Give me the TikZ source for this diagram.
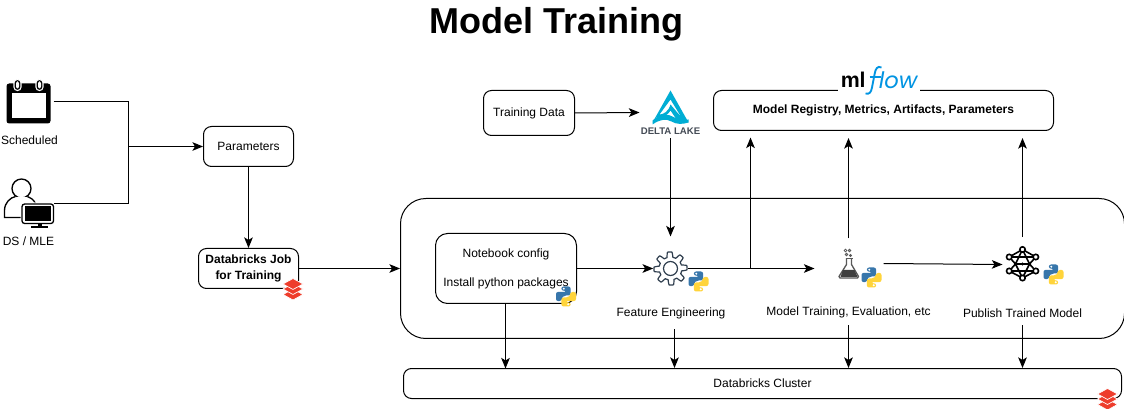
\documentclass[tikz,border=0pt]{standalone}
\usepackage{fontspec}
\setmainfont{Liberation Sans}
\newfontfamily\mlfont{Poppins}
\usetikzlibrary{arrows.meta,calc}
\definecolor{pyblue}{HTML}{3776AB}
\definecolor{pyyellow}{HTML}{FFD43B}
\definecolor{dbred}{HTML}{EE3D2C}
\definecolor{deltablue}{HTML}{00ADD4}
\definecolor{flowblue}{HTML}{0194E2}
\definecolor{gearcol}{HTML}{2F3E4E}
\definecolor{deltagrey}{HTML}{444B55}
\tikzset{
  x=0.75pt,y=-0.75pt,
  conn/.style={draw=black,line width=0.75pt},
  arrowconn/.style={conn,-{Stealth[length=8pt,width=6.5pt,inset=2pt]}},
  gapend/.style={shorten >=5.25pt},
  boxnode/.style={draw=black,line width=0.75pt,rounded corners=6pt,fill=white,align=center,font=\fontsize{9}{14}\selectfont,inner sep=0pt},
  label/.style={font=\fontsize{9}{11}\selectfont,inner sep=0pt,align=center},
  iconnode/.style={inner sep=0pt,outer sep=0pt,rectangle},
}
\newcommand{\downtext}[1]{\raisebox{-0.4pt}{#1}}
\newcommand{\pylogo}[2]{%
  \begin{scope}[shift={(#1,#2)}]
    \fill[pyblue,rounded corners=1.6pt] (-4.6,-10) -- (4.6,-10) -- (4.6,-1) -- (-2,-1) -- (-4.6,1.4) -- (-4.6,4.6) -- (-10,4.6) -- (-10,-4.6) -- (0.4,-4.6) -- (0.4,-5.8) -- (-4.6,-5.8) -- cycle;
    \fill[pyyellow,rounded corners=1.6pt] (4.6,10) -- (-4.6,10) -- (-4.6,1) -- (2,1) -- (4.6,-1.4) -- (4.6,-4.6) -- (10,-4.6) -- (10,4.6) -- (-0.4,4.6) -- (-0.4,5.8) -- (4.6,5.8) -- cycle;
    \fill[white] (-2.2,-7.8) circle[radius=1.1] (2.2,7.8) circle[radius=1.1];
  \end{scope}}
\newcommand{\dblogo}[2]{%
  \begin{scope}[shift={(#1,#2)}]
    \foreach \dy in {6,0.5,-4.5}{
      \fill[dbred,draw=white,line width=0.5pt] (-10,\dy) -- (0,\dy-5.5) -- (10,\dy) -- (0,\dy+5.5) -- cycle;
    }
  \end{scope}}
\begin{document}
\begin{tikzpicture}
\useasboundingbox (-0.5,-0.5) rectangle (1123.5,408.5);
\fill[white] (-0.5,-0.5) rectangle (1123.5,408.5);

% title
\node[font=\fontsize{27}{30}\bfseries\selectfont,inner sep=0pt] (title) at (556,24) {Model Training};

% invisible anchors of the icons
\node[iconnode,minimum width=36pt,minimum height=30pt] (cal) at (29,101) {};
\node[iconnode,minimum width=36pt,minimum height=30pt] (user) at (29,203) {};
\node[iconnode,minimum width=26pt,minimum height=48pt] (gear) at (670,268) {};
\node[iconnode,minimum width=46.5pt,minimum height=39pt] (delta) at (670,112) {};
\node[iconnode,minimum width=51pt,minimum height=45pt] (flask) at (848,268) {};
\node[iconnode,minimum width=15pt,minimum height=41pt] (flaskr) at (873,263) {};
\node[iconnode,minimum width=30pt,minimum height=41pt] (net) at (1022,264) {};
\node[iconnode,minimum width=18pt,minimum height=10pt] (gearlow) at (674,322) {};
\node[iconnode,minimum width=18pt,minimum height=10pt] (flasklow) at (848,318) {};
\node[iconnode,minimum width=18pt,minimum height=10pt] (netlow) at (1022,318) {};

% boxes
\node[boxnode,minimum width=67.5pt,minimum height=30pt] (params) at (248,146) {\downtext{Parameters}};
\node[boxnode,minimum width=75pt,minimum height=30pt,font=\fontsize{9}{12}\bfseries\selectfont] (job) at (248,268) {Databricks Job\\for Training};
\node[boxnode,rounded corners=19pt,minimum width=543pt,minimum height=105pt] (big) at (762,268) {};
\node[boxnode,rounded corners=9pt,minimum width=105.75pt,minimum height=52.5pt] (nb) at (505.5,268) {};
\node[label] (nb1) at (505.5,254) {Notebook config};
\node[label] (nb2) at (505.5,283) {Install python packages};
\node[boxnode,minimum width=68.25pt,minimum height=33.75pt] (train) at (528.5,112.5) {\downtext{Training Data}};
\node[boxnode,minimum width=255pt,minimum height=30pt,font=\fontsize{9}{11}\bfseries\selectfont] (reg) at (883,110) {\downtext{Model Registry, Metrics, Artifacts, Parameters}};
\node[boxnode,minimum width=538.5pt,minimum height=22.5pt] (cluster) at (762,383) {\downtext{Databricks Cluster}};

% labels
\node[label] (sched) at (29,140) {Scheduled};
\node[label] (dsmle) at (28,241) {DS / MLE};
\node[label] (fe) at (670.5,313) {Feature Engineering};
\node[label] (mt) at (848,312) {Model Training, Evaluation, etc};
\node[label] (pub) at (1022,313) {Publish Trained Model};

% mlflow logo
\fill[white] (837,80) rectangle (919,95);
\node[inner sep=0pt,anchor=base west,font=\fontsize{16}{18}\bfseries\selectfont] (ml) at (840,87.5) {ml};
\draw[flowblue,line width=1.4pt] (881,67) .. controls (877,65) and (875,68) .. (874,74) -- (871.5,87) .. controls (870.5,92) and (869,94) .. (865,93);
\draw[flowblue,line width=1.2pt] (869,76.5) -- (880,76.5);
\node[inner sep=0pt,anchor=base west,font=\mlfont\fontsize{17}{20}\itshape\selectfont,text=flowblue] (flowtxt) at (878,88) {low};

% connectors
\coordinate (jtop) at (128,101);
\coordinate (jbot) at (128,203);
\coordinate (jmid) at (128,146);
\coordinate (branch) at (750,268);
\draw[conn] (cal.east) -- (jtop) -- (jbot) -- (user.east);
\draw[arrowconn] (jmid) -- (params.west);
\draw[arrowconn] (params.south) -- (job.north);
\draw[arrowconn] (job.east) -- (big.west);
\draw[arrowconn] (train.east) -- (delta.west);
\draw[arrowconn] (delta.south) -- (gear.north);
\draw[arrowconn] (nb.east) -- (gear.west);
\draw[arrowconn] (gear.east) -- (flask.west);
\draw[arrowconn] (branch) -- ++(0,-131);
\draw[arrowconn,gapend] (flask.north) -- (flask.north |- reg.south);
\draw[arrowconn] (flaskr.east) -- (net.west);
\draw[arrowconn,gapend] (net.north) -- (net.north |- reg.south);
\draw[arrowconn] (505,303) -- (505,368);
\draw[arrowconn] (gearlow.south) -- (gearlow.south |- cluster.north);
\draw[arrowconn] (flasklow.south) -- (flasklow.south |- cluster.north);
\draw[arrowconn] (netlow.south) -- (netlow.south |- cluster.north);

% calendar icon
\fill[black,rounded corners=2pt] (6,83) rectangle (50,123);
\fill[white] (11,93) rectangle (45,118);
\foreach \cx in {17,39}{
  \fill[black,draw=white,line width=0.8pt,rounded corners=2.5pt] (\cx-3.5,79) rectangle (\cx+3.5,90);
  \fill[white,rounded corners=1.5pt] (\cx-1.5,81) rectangle (\cx+1.5,88);
}

% user with monitor
\draw[line width=1pt] (21,188) circle[radius=9.5];
\fill[white] (4,218) -- (4,210) .. controls (4,202) and (12,196) .. (21,196) .. controls (28,196) and (35,200) .. (36,206) -- (36,218) -- cycle;
\draw[line width=1pt] (22,217) -- (4,217) -- (4,210) .. controls (4,202) and (10,197) .. (15,196);
\draw[line width=1pt] (27,196) .. controls (30,197) and (33,199) .. (35,203);
\fill[white,rounded corners=2pt] (20,202) rectangle (54,225);
\draw[line width=1pt,rounded corners=2pt] (21.5,203.5) rectangle (53,223);
\fill[black] (24,206) rectangle (50.5,220.5);
\fill[black] (37,223) rectangle (41,227);
\fill[black] (30,226) rectangle (47,228);

% delta lake logo
\fill[deltablue,even odd rule] (670,90) -- (688,122) -- (678,122) -- (670,110) .. controls (668,114) and (662,118) .. (656,117) -- (652,122) -- cycle
  (670,99) -- (659,114) .. controls (663,114) and (668,111) .. (670,104) -- (681,117) -- cycle;
\fill[deltablue] (652,120) .. controls (660,113) and (668,113) .. (674,117) .. controls (678,120) and (683,120) .. (688,119) -- (688,122) .. controls (682,124) and (676,124) .. (671,121) .. controls (666,118) and (659,119) .. (652,124) -- cycle;
\node[inner sep=0pt,font=\fontsize{7.2}{8}\bfseries\selectfont,text=deltagrey] (dl) at (670,130.5) {DELTA LAKE};

% gear
\draw[gearcol,line width=0.9pt,line join=round,fill=white] plot[domain=0:360,samples=161,smooth] ({670+(14+2.6*min(1,max(-1,2.2*cos(8*\x+22.5))))*cos(\x)},{268+(14+2.6*min(1,max(-1,2.2*cos(8*\x+22.5))))*sin(\x)}) -- cycle;
\draw[gearcol,line width=0.9pt] (670,268) circle[radius=7];

% flask
\draw[gray!70!black,line width=1pt,line join=round,fill=white] (846,258) -- (846,264) -- (838.5,276) -- (839.5,277.5) -- (857,277.5) -- (858,276) -- (851,264) -- (851,258);
\draw[gray!70!black,line width=1pt] (845,258) -- (852,258);
\fill[black!75] (842.5,269.5) -- (854,269.5) -- (857,276.5) -- (840,276.5) -- cycle;
\foreach \bx/\by/\br in {845/250/1.4,849/250/1.2,846/254/1.2,850/255/1}{
  \draw[gray!70!black,line width=0.6pt] (\bx,\by) circle[radius=\br];
}

% neural network
\coordinate (n1) at (1022,249);
\coordinate (n2) at (1008.7,256.5);
\coordinate (n3) at (1035.3,256.5);
\coordinate (n4) at (1022,263.5);
\coordinate (n5) at (1008.7,270.5);
\coordinate (n6) at (1035.3,270.5);
\coordinate (n7) at (1022,277.5);
\coordinate (n8) at (1015,263.5);
\coordinate (n9) at (1029,263.5);
\draw[line width=1.2pt] (n2) -- (n1) -- (n3) (n5) -- (n7) -- (n6);
\draw[line width=1.2pt] (n2) -- (n8) -- (n5) (n3) -- (n9) -- (n6) (n8) -- (n9);
\draw[line width=1.2pt] (n2) -- (n3) (n5) -- (n6) (n1) -- (n8) (n1) -- (n9) (n7) -- (n8) (n7) -- (n9);
\foreach \n in {n1,n2,n3,n5,n6,n7}{
  \draw[line width=1.2pt,fill=white] (\n) circle[radius=2.7];
}
\foreach \n in {n4,n8,n9}{
  \fill (\n) circle[radius=1.6];
}

% python and databricks logos
\pylogo{565.5}{296}
\pylogo{698}{281}
\pylogo{871}{277}
\pylogo{1053}{274}
\dblogo{292.5}{288}
\dblogo{1107}{398}
\end{tikzpicture}
\end{document}
